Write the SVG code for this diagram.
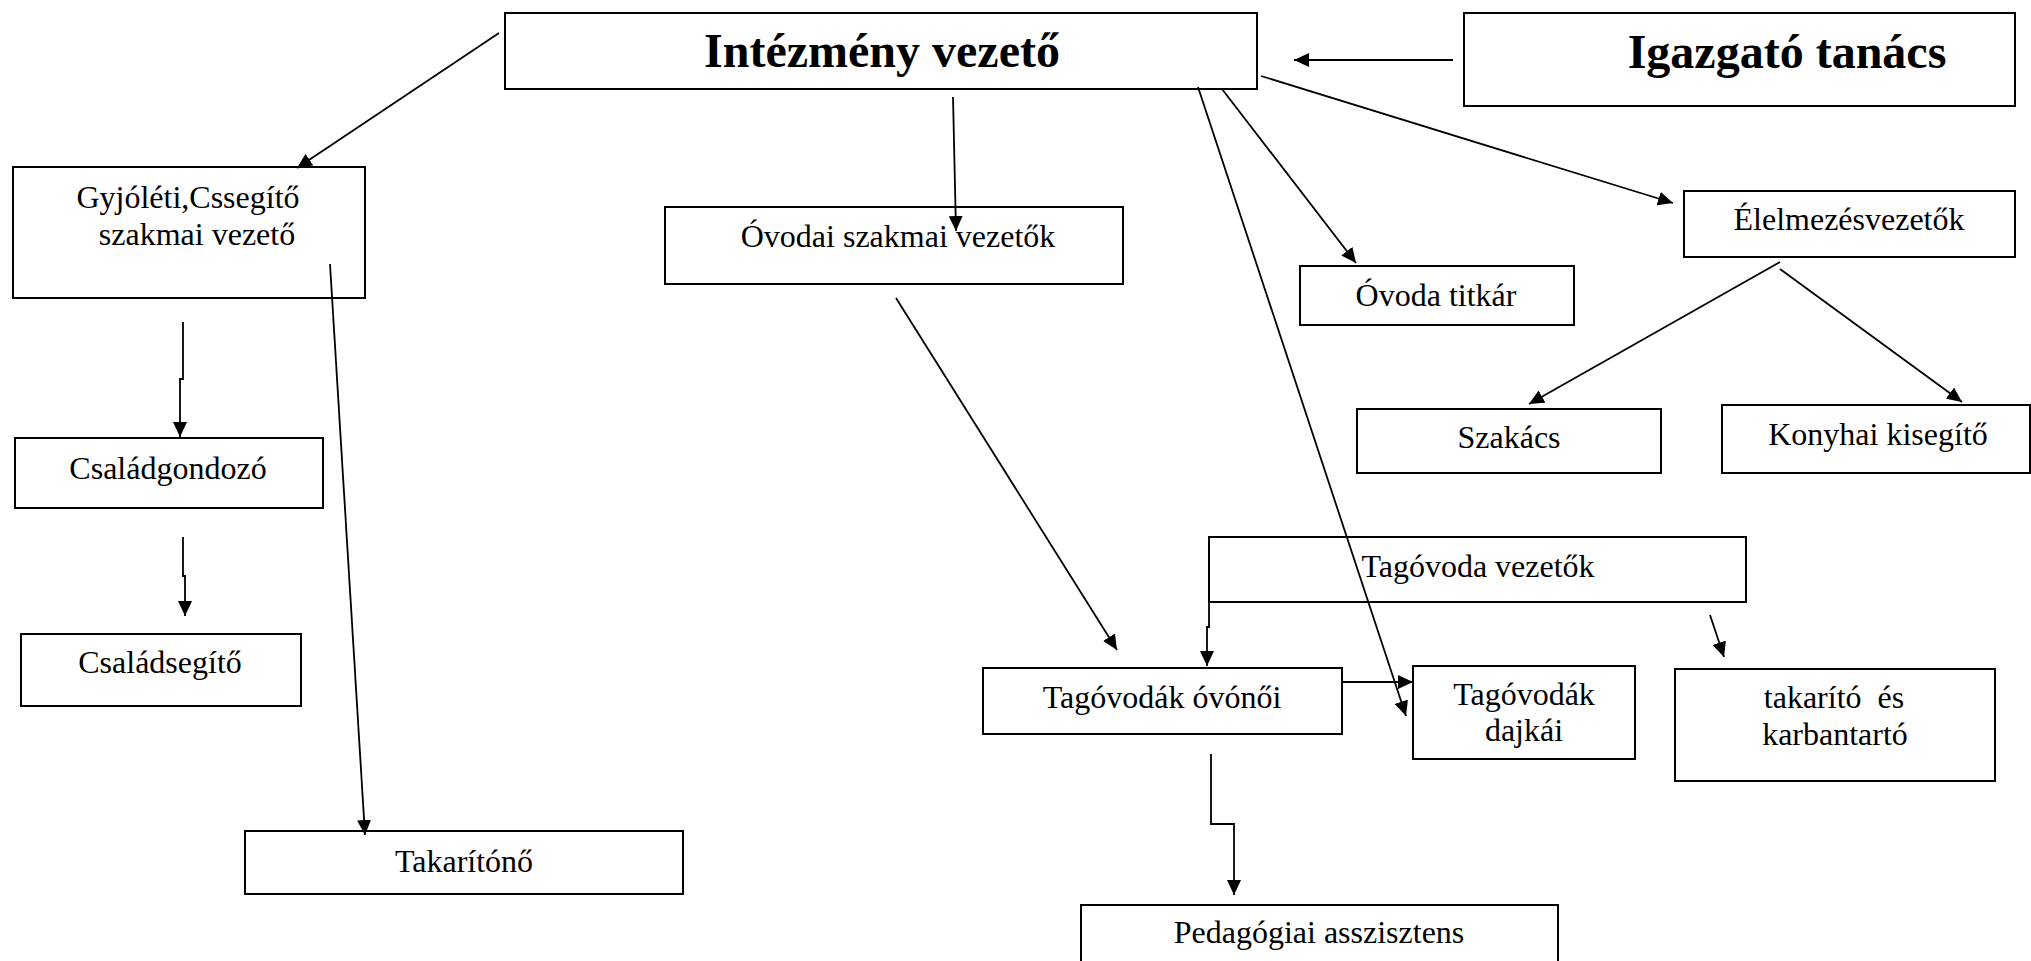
<svg xmlns="http://www.w3.org/2000/svg" width="2031" height="961" viewBox="0 0 2031 961">
<defs>
<marker id="ah" markerUnits="userSpaceOnUse" markerWidth="16" markerHeight="14" refX="15" refY="7" orient="auto"><path d="M0,0 L15,7 L0,14 z" fill="#000"/></marker>
</defs>
<style>
.box{fill:#fff;stroke:#000;stroke-width:2}
.t{font-family:"Liberation Serif","Times New Roman",serif;font-size:32px;fill:#000;text-anchor:middle;white-space:pre}
.tb{font-family:"Liberation Serif","Times New Roman",serif;font-size:48px;font-weight:bold;fill:#000;text-anchor:middle}
.c{fill:none;stroke:#000;stroke-width:1.8;marker-end:url(#ah)}
</style>
<rect width="2031" height="961" fill="#fff"/>
<g id="intezmeny"><rect class="box" x="505" y="13" width="752" height="76"/><text class="tb" x="882" y="67">Intézmény vezető</text></g>
<g id="igazgato"><rect class="box" x="1464" y="13" width="551" height="93"/><text class="tb" x="1787" y="68">Igazgató tanács</text></g>
<g id="gyjoleti"><rect class="box" x="13" y="167" width="352" height="131"/><text class="t" x="188" y="208">Gyjóléti,Cssegítő</text><text class="t" x="197" y="245">szakmai vezető</text></g>
<g id="ovodai"><rect class="box" x="665" y="207" width="458" height="77"/><text class="t" x="898" y="247">Óvodai szakmai vezetők</text></g>
<g id="titkar"><rect class="box" x="1300" y="266" width="274" height="59"/><text class="t" x="1436" y="306">Óvoda titkár</text></g>
<g id="elelmezes"><rect class="box" x="1684" y="191" width="331" height="66"/><text class="t" x="1849" y="230">Élelmezésvezetők</text></g>
<g id="szakacs"><rect class="box" x="1357" y="409" width="304" height="64"/><text class="t" x="1509" y="448">Szakács</text></g>
<g id="konyhai"><rect class="box" x="1722" y="405" width="308" height="68"/><text class="t" x="1878" y="445">Konyhai kisegítő</text></g>
<g id="tagovoda-vezetok"><rect class="box" x="1209" y="537" width="537" height="65"/><text class="t" x="1478" y="577">Tagóvoda vezetők</text></g>
<g id="tagovodak-ovonoi"><rect class="box" x="983" y="668" width="359" height="66"/><text class="t" x="1162" y="708">Tagóvodák óvónői</text></g>
<g id="dajkai"><rect class="box" x="1413" y="666" width="222" height="93"/><text class="t" x="1524" y="705">Tagóvodák</text><text class="t" x="1524" y="741">dajkái</text></g>
<g id="takarito-karbantarto"><rect class="box" x="1675" y="669" width="320" height="112"/><text class="t" x="1834" y="708">takarító  és</text><text class="t" x="1835" y="745">karbantartó</text></g>
<g id="pedagogiai"><rect class="box" x="1081" y="905" width="477" height="70"/><text class="t" x="1319" y="943">Pedagógiai asszisztens</text></g>
<g id="takaritono"><rect class="box" x="245" y="831" width="438" height="63"/><text class="t" x="464" y="872">Takarítónő</text></g>
<g id="csaladgondozo"><rect class="box" x="15" y="438" width="308" height="70"/><text class="t" x="168" y="479">Családgondozó</text></g>
<g id="csaladsegito"><rect class="box" x="21" y="634" width="280" height="72"/><text class="t" x="160" y="673">Családsegítő</text></g>
<g id="connectors">
<path class="c" d="M499,33 L297,168"/>
<path class="c" d="M953,97 L956,231"/>
<path class="c" d="M1222,89 L1356,263"/>
<path class="c" d="M1261,76 L1673,203"/>
<path class="c" d="M1198,87 L1406,716"/>
<path class="c" d="M1453,60 L1294,60"/>
<path class="c" d="M1780,262 L1529,404"/>
<path class="c" d="M1780,269 L1962,402"/>
<path class="c" d="M896,298 L1117,650"/>
<path class="c" d="M1209,588 V627 H1207 V666"/>
<path class="c" d="M1710,615 L1724,657"/>
<path class="c" d="M1342,682 H1413"/>
<path class="c" d="M1211,754 V824 H1234 V895"/>
<path class="c" d="M330,264 L365,835"/>
<path class="c" d="M183,322 V379 H180 V437"/>
<path class="c" d="M183,537 V576 H185 V616"/>
</g>
</svg>
